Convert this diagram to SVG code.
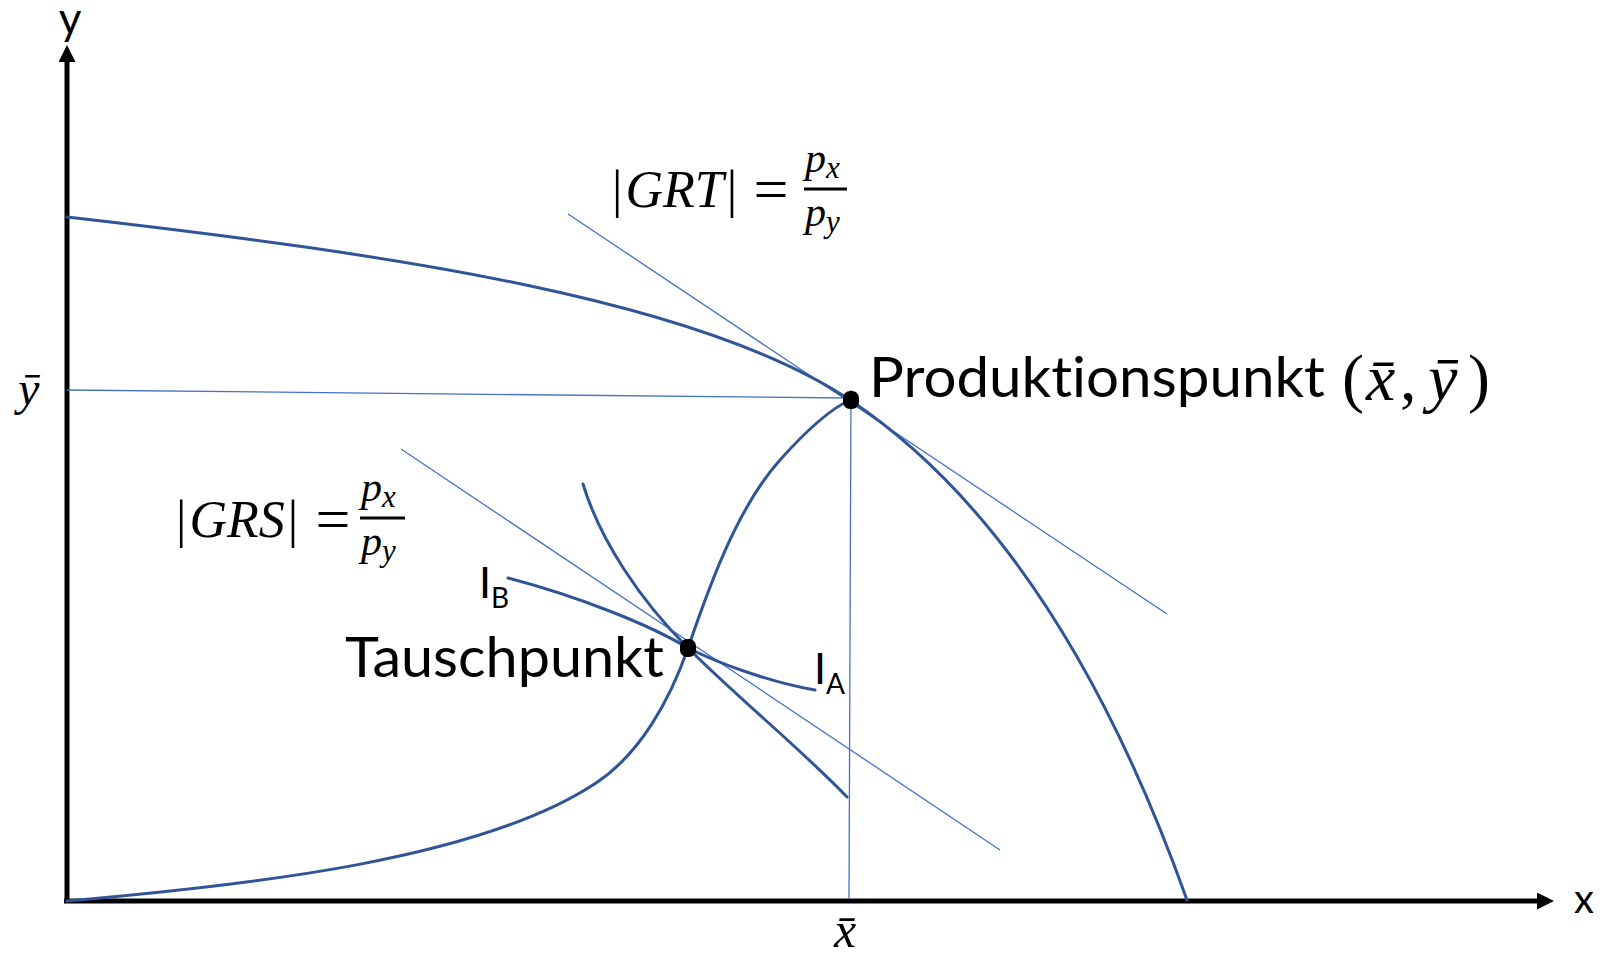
<svg xmlns="http://www.w3.org/2000/svg" width="1600" height="955" viewBox="0 0 1600 955">
<style>
.ax{stroke:#000;stroke-width:5;fill:none}
.cv{stroke:#2F5597;stroke-width:3;fill:none;stroke-linecap:round}
.tl{stroke:#4472C4;stroke-width:1.3;fill:none}
.lab{font-family:Lato,"Open Sans",sans-serif;fill:#000;font-variant-ligatures:none;font-feature-settings:"liga" 0,"dlig" 0}
.m{font-family:"Liberation Serif","DejaVu Serif",serif;fill:#000}
.i{font-style:italic}
.dot{fill:#000}
</style>
<defs>
<marker id="ah" markerUnits="userSpaceOnUse" markerWidth="18" markerHeight="18" refX="0" refY="8.5" orient="auto">
<path d="M0,0 L17,8.5 L0,17 z" fill="#000"/>
</marker>
</defs>
<g id="axes">
<line class="ax" x1="67" y1="903" x2="67" y2="62" marker-end="url(#ah)"/>
<line class="ax" x1="64" y1="901" x2="1537" y2="901" marker-end="url(#ah)"/>
<text class="lab" x="70" y="34" font-size="44" text-anchor="middle">y</text>
<text class="lab" x="1584" y="913" font-size="40" text-anchor="middle">x</text>
<text class="m i" x="18" y="405" font-size="48">ȳ</text>
<text class="m i" x="834" y="947" font-size="50">x̄</text>
</g>
<g id="connectors">
<line class="tl" x1="67" y1="390" x2="848" y2="398"/>
<line class="tl" x1="851" y1="390" x2="849" y2="899"/>
<line class="tl" x1="568" y1="214" x2="1167" y2="614"/>
<line class="tl" x1="401" y1="449" x2="1000" y2="850"/>
</g>
<g id="ppf">
<path class="cv" d="M67,217 C400,255 700,300 850,400 C950,467 1080,600 1187,900"/>
</g>
<g id="contract-curve">
<path class="cv" d="M67,901 C250,885 480,860 596,783 C640,754 670,700 688,648 C706,596 735,510 780,460 C805,432 828,410 850,400"/>
</g>
<g id="indiff-A">
<path class="cv" d="M508,578 C580,597 650,625 688,648 C720,664 770,682 815,690"/>
<text class="lab" x="814" y="684" font-size="43">I<tspan font-size="28" dy="10">A</tspan></text>
</g>
<g id="indiff-B">
<path class="cv" d="M583,484 C600,540 640,600 688,648 C740,700 800,748 847,797"/>
<text class="lab" x="479" y="598" font-size="43">I<tspan font-size="28" dy="10">B</tspan></text>
</g>
<g id="produktionspunkt">
<rect class="dot" x="843" y="391" width="16" height="18" rx="7" ry="7"/>
<text class="lab" x="869" y="397" font-size="57" textLength="456" lengthAdjust="spacingAndGlyphs">Produktionspunkt</text>
<text class="m" y="400" font-size="66"><tspan x="1342">(</tspan><tspan class="i" x="1366">x̄</tspan><tspan x="1400">,</tspan><tspan class="i" x="1428">ȳ</tspan><tspan x="1468">)</tspan></text>
</g>
<g id="tauschpunkt">
<rect class="dot" x="680" y="639" width="16" height="18" rx="7" ry="7"/>
<text class="lab" x="345" y="677" font-size="57" textLength="319" lengthAdjust="spacingAndGlyphs">Tauschpunkt</text>
</g>
<g id="grt-label">
<text class="m" x="612" y="207" font-size="52">|<tspan class="i" dx="3">GRT</tspan><tspan dx="3">|</tspan></text>
<text class="m" x="771" y="210" font-size="62" text-anchor="middle">=</text>
<line x1="804" y1="189" x2="847" y2="189" stroke="#000" stroke-width="3"/>
<text class="m i" x="805" y="172" font-size="42">p<tspan font-size="31" dy="6">x</tspan></text>
<text class="m i" x="805" y="226" font-size="42">p<tspan font-size="31" dy="6">y</tspan></text>
</g>
<g id="grs-label">
<text class="m" x="176" y="537" font-size="52">|<tspan class="i" dx="3">GRS</tspan><tspan dx="3">|</tspan></text>
<text class="m" x="333" y="540" font-size="62" text-anchor="middle">=</text>
<line x1="360" y1="518" x2="405" y2="518" stroke="#000" stroke-width="3"/>
<text class="m i" x="361" y="501" font-size="42">p<tspan font-size="31" dy="6">x</tspan></text>
<text class="m i" x="361" y="555" font-size="42">p<tspan font-size="31" dy="6">y</tspan></text>
</g>
</svg>
